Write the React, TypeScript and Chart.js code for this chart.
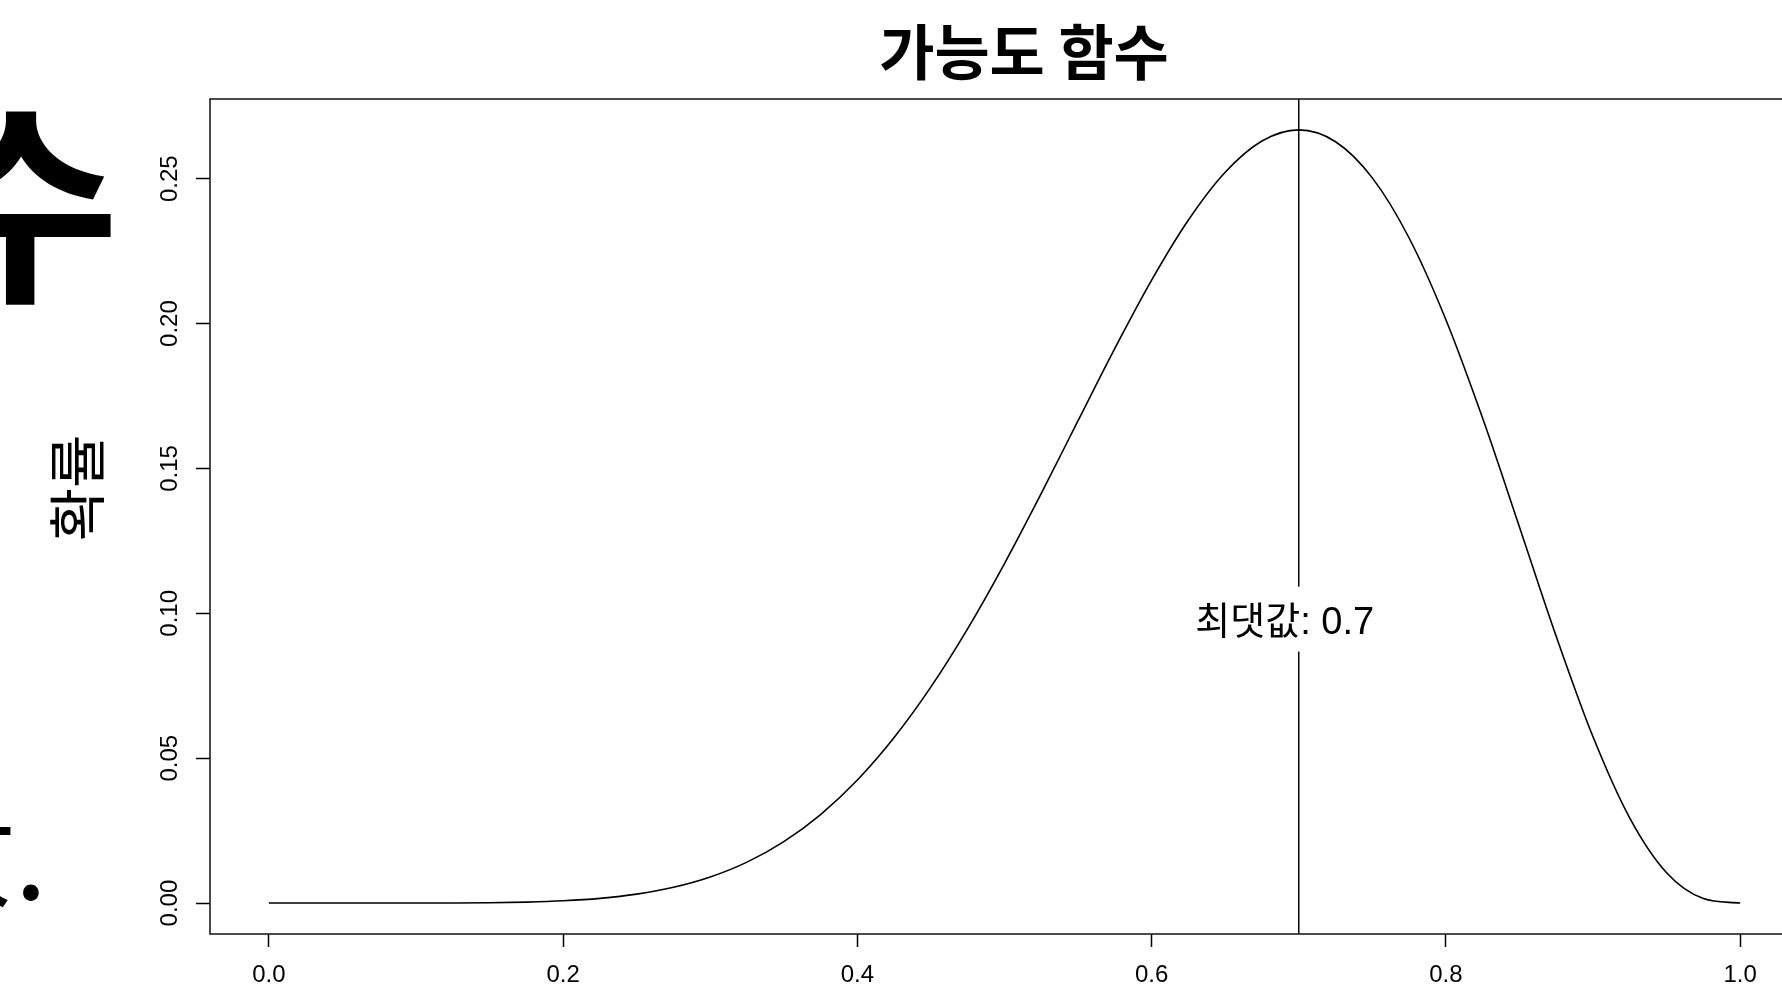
import React, { useEffect, useRef } from "react";
import { Chart, registerables } from "chart.js";

Chart.register(...registerables);

// Success probability p (x) and likelihood L(p) for 7 successes in 10 trials (y)
const P_VALUES = [
  0, 0.025, 0.05, 0.075, 0.1, 0.125, 0.15, 0.175, 0.2, 0.225,
  0.25, 0.275, 0.3, 0.325, 0.35, 0.375, 0.4, 0.425, 0.45, 0.475,
  0.5, 0.525, 0.55, 0.575, 0.6, 0.625, 0.65, 0.675, 0.7, 0.725,
  0.75, 0.775, 0.8, 0.825, 0.85, 0.875, 0.9, 0.925, 0.95, 0.975, 1,
];
const LIKELIHOOD = [
  0, 0.0000000007, 0.00000008, 0.0000013, 0.0000087, 0.0000383, 0.000126, 0.000339, 0.000786, 0.00163,
  0.00309, 0.00544, 0.00900, 0.01413, 0.02120, 0.03055, 0.04247, 0.05714, 0.07460, 0.09474,
  0.11719, 0.14138, 0.16648, 0.19144, 0.21499, 0.23574, 0.25222, 0.26300, 0.26683, 0.26275,
  0.25028, 0.22953, 0.20133, 0.16729, 0.12983, 0.09204, 0.05740, 0.02933, 0.01048, 0.00157, 0,
];

const X_TICKS = [0, 0.2, 0.4, 0.6, 0.8, 1.0];
const Y_TICKS = [0, 0.05, 0.1, 0.15, 0.2, 0.25];

const X_RANGE = [-0.04, 1.04];
const Y_RANGE = [-0.010673, 0.277501];

const MODE_X = 0.7;
const MODE_LABEL_Y = 0.098;

const TITLE = "가능도 함수";
const Y_TITLE = "확률";
const MODE_LABEL = "최댓값: 0.7";
const SIDE_TEXT_TOP = "수";
const SIDE_TEXT_BOTTOM = "았.";

const LATIN = '"Liberation Sans", Arial, "Noto Sans CJK KR", sans-serif';
const CJK = '"Noto Sans CJK KR", "Noto Sans", sans-serif';

const decorations = {
  id: "decorations",
  afterDatasetsDraw(chart: any) {
    const { ctx, chartArea, scales } = chart;
    const x = scales.x;
    const y = scales.y;
    ctx.save();

    // vertical marker at the maximum
    const mx = x.getPixelForValue(MODE_X);
    ctx.strokeStyle = "#000";
    ctx.lineWidth = 1.5;
    ctx.beginPath();
    ctx.moveTo(mx, chartArea.top);
    ctx.lineTo(mx, chartArea.bottom);
    ctx.stroke();

    // label with a white background
    ctx.font = `38px ${LATIN}`;
    const ly = y.getPixelForValue(MODE_LABEL_Y);
    const lx = mx - 14;
    const w = ctx.measureText(MODE_LABEL).width;
    ctx.fillStyle = "#fff";
    ctx.fillRect(lx - w / 2 - 4, ly - 32.5, w + 8, 65);
    ctx.fillStyle = "#000";
    ctx.textAlign = "center";
    ctx.textBaseline = "middle";
    ctx.fillText(MODE_LABEL, lx, ly + 4);

    // plot frame
    ctx.lineWidth = 1.5;
    ctx.strokeStyle = "#111";
    ctx.strokeRect(chartArea.left, chartArea.top, chartArea.right - chartArea.left, chartArea.bottom - chartArea.top);
    ctx.restore();
  },
  afterDraw(chart: any) {
    const { ctx, scales } = chart;
    const y = scales.y;
    ctx.save();
    ctx.fillStyle = "#000";

    // rotated y tick labels
    ctx.font = `24px ${LATIN}`;
    ctx.textAlign = "center";
    ctx.textBaseline = "middle";
    for (const v of Y_TICKS) {
      const py = y.getPixelForValue(v);
      ctx.save();
      ctx.translate(170, py);
      ctx.rotate(-Math.PI / 2);
      ctx.fillText(v.toFixed(2), 0, 0);
      ctx.restore();
    }

    // y axis title
    ctx.save();
    ctx.font = `58px ${CJK}`;
    ctx.translate(77, 488);
    ctx.rotate(-Math.PI / 2);
    ctx.fillText(Y_TITLE, 0, 0);
    ctx.restore();

    // main title
    ctx.font = `bold 60px ${CJK}`;
    ctx.textAlign = "center";
    ctx.textBaseline = "alphabetic";
    ctx.fillText(TITLE, 1024, 75);

    // large side lettering
    ctx.font = `bold 214px ${CJK}`;
    ctx.textAlign = "center";
    ctx.fillText(SIDE_TEXT_TOP, 21, 285);

    ctx.font = `118px ${CJK}`;
    ctx.textAlign = "left";
    ctx.fillText(SIDE_TEXT_BOTTOM, -94, 899);

    ctx.restore();
  },
};

export default function App() {
  const canvasRef = useRef<HTMLCanvasElement | null>(null);

  useEffect(() => {
    const canvas = canvasRef.current;
    if (!canvas) return;
    const chart = new Chart(canvas, {
      type: "line",
      data: {
        datasets: [
          {
            data: P_VALUES.map((p, i) => ({ x: p, y: LIKELIHOOD[i] })),
            borderColor: "#000",
            borderWidth: 1.6,
            pointRadius: 0,
            fill: false,
            cubicInterpolationMode: "monotone",
          },
        ],
      },
      options: {
        animation: false,
        responsive: false,
        devicePixelRatio: 1,
        layout: { padding: { top: 99, right: 11, left: 0, bottom: 0 } },
        plugins: {
          legend: { display: false },
          tooltip: { enabled: false },
          title: { display: false },
        },
        scales: {
          x: {
            type: "linear",
            min: X_RANGE[0],
            max: X_RANGE[1],
            afterBuildTicks: (scale: any) => {
              scale.ticks = X_TICKS.map((v) => ({ value: v }));
            },
            afterFit: (scale: any) => {
              scale.height = 54;
            },
            border: { display: false },
            grid: {
              display: true,
              drawOnChartArea: false,
              drawTicks: true,
              tickLength: 13,
              tickWidth: 1.5,
              tickColor: "#000",
            },
            ticks: {
              autoSkip: false,
              maxRotation: 0,
              minRotation: 0,
              padding: 14,
              color: "#000",
              font: { family: LATIN, size: 24 },
              callback: (v: any) => Number(v).toFixed(1),
            },
          },
          y: {
            type: "linear",
            min: Y_RANGE[0],
            max: Y_RANGE[1],
            afterBuildTicks: (scale: any) => {
              scale.ticks = Y_TICKS.map((v) => ({ value: v }));
            },
            afterFit: (scale: any) => {
              scale.width = 210;
            },
            border: { display: false },
            grid: {
              display: true,
              drawOnChartArea: false,
              drawTicks: true,
              tickLength: 14,
              tickWidth: 1.5,
              tickColor: "#000",
            },
            ticks: { display: false },
          },
        },
      },
      plugins: [decorations],
    });
    return () => chart.destroy();
  }, []);

  return (
    <div
      style={{
        position: "fixed",
        left: 0,
        top: 0,
        width: 1782,
        height: 988,
        overflow: "hidden",
        background: "#fff",
      }}
    >
      <canvas ref={canvasRef} width={1810} height={988} style={{ width: 1810, height: 988, display: "block" }} />
    </div>
  );
}
